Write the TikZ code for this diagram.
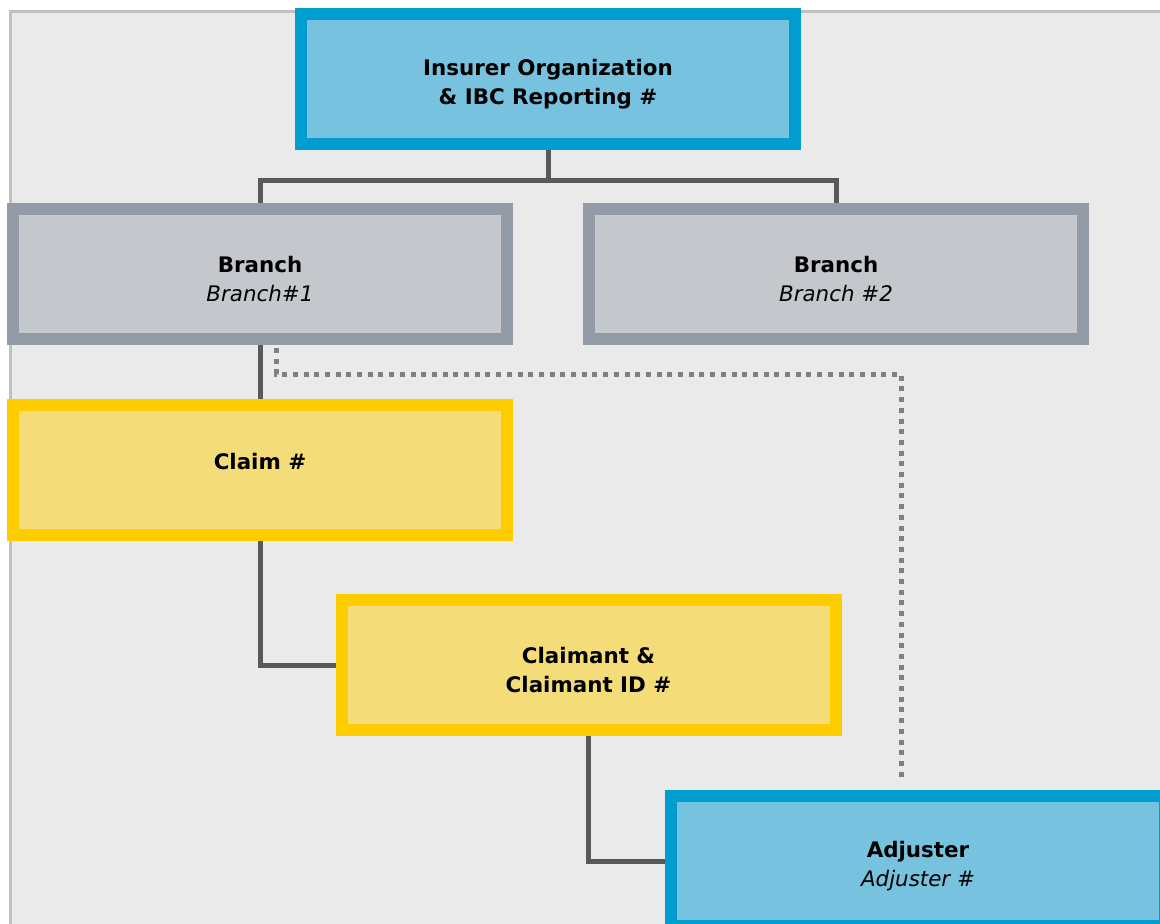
\documentclass[tikz,border=0pt]{standalone}
\usepackage{fontspec}
\setmainfont{DejaVu Sans}
\usepackage{xcolor}
\usetikzlibrary{positioning}

\definecolor{orgblue}{HTML}{009ECE}
\definecolor{orgfill}{HTML}{77C2DE}
\definecolor{branchgray}{HTML}{939CA6}
\definecolor{branchfill}{HTML}{C4C8CD}
\definecolor{claimyellow}{HTML}{FFCC00}
\definecolor{claimfill}{HTML}{F4DC78}
\definecolor{linkgray}{HTML}{58595B}
\definecolor{dotgray}{HTML}{808080}
\definecolor{backgray}{HTML}{EAEAEA}
\definecolor{framegray}{HTML}{C0C0C0}

% pushes the text block a little below the middle of its box
\newcommand{\topgap}{\rule{0pt}{27pt}}

\tikzset{
  box/.style={rectangle, line width=12pt, minimum width=494pt, minimum height=130pt,
    inner sep=0pt, align=center, font=\fontsize{21.4}{29}\selectfont},
  bluebox/.style={box, draw=orgblue, fill=orgfill},
  graybox/.style={box, draw=branchgray, fill=branchfill},
  yellowbox/.style={box, draw=claimyellow, fill=claimfill},
  link/.style={draw=linkgray, line width=5pt},
  dotlink/.style={draw=dotgray, line width=5pt, dash pattern=on 5pt off 5.7pt}
}

\begin{document}
\begin{tikzpicture}[x=1pt, y=-1pt]
  \useasboundingbox (0,0) rectangle (1160,924);
  \draw[framegray, line width=3pt, fill=backgray] (10.5,11.5) rectangle (1200,960);

  \node[bluebox] (org) at (548,79) {\topgap\textbf{Insurer Organization}\\\textbf{\& IBC Reporting \#}};
  \node[graybox] (br1) at (260,274) {\topgap\textbf{Branch}\\\textit{Branch\#1}};
  \node[graybox] (br2) at (836,274) {\topgap\textbf{Branch}\\\textit{Branch \#2}};
  \node[yellowbox] (claim) at (260,470) {\topgap\textbf{Claim \#}\\\mbox{}};
  \node[yellowbox] (claimant) at (588.5,665) {\topgap\textbf{Claimant \&}\\\textbf{Claimant ID \#}};
  \node[bluebox] (adj) at (918,861) {\topgap\textbf{Adjuster}\\\textit{Adjuster \#}};

  \coordinate (split) at (548,180);
  \coordinate (dotend) at (901,780);

  \draw[link] (org.south) -- (split);
  \draw[link] (br1.north) |- (split) -| (br2.north);
  \draw[link] (br1.south) -- (claim.north);
  \draw[link] (claim.south) |- (claimant.west);
  \draw[link] (claimant.south) |- (adj.west);
  \draw[dotlink] ([xshift=16pt, yshift=-3pt]br1.south) -- ++(0,26) -| (dotend);
\end{tikzpicture}
\end{document}
